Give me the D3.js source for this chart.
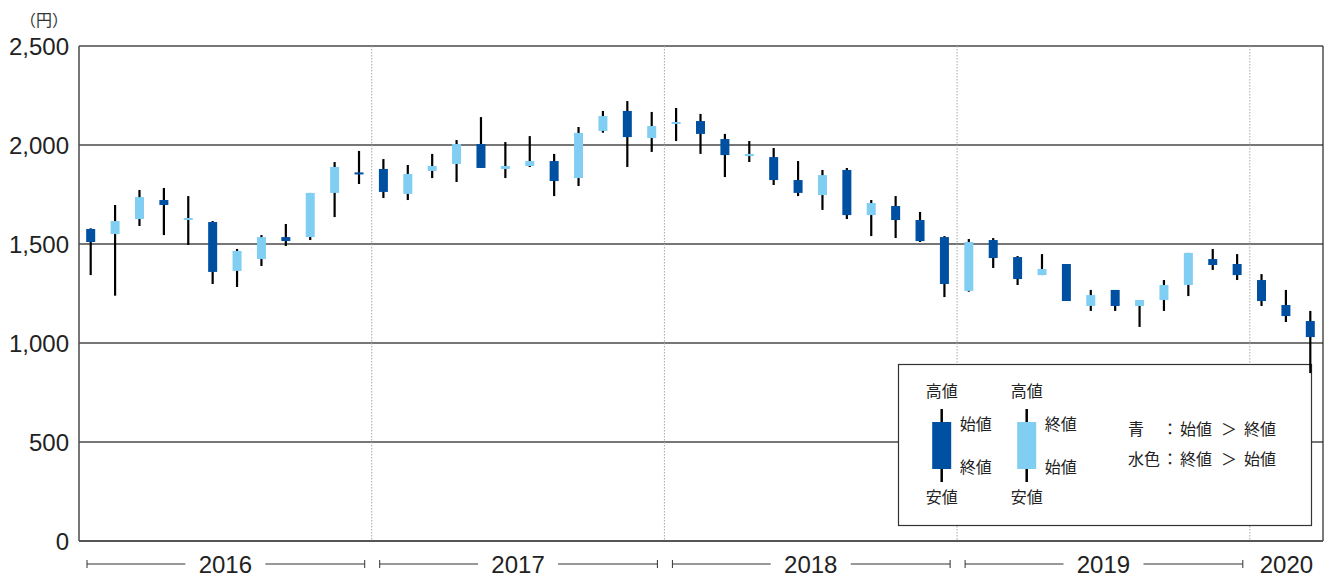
<!DOCTYPE html>
<html><head><meta charset="utf-8">
<script src="https://cdn.jsdelivr.net/npm/d3@7"></script>
<style>
html,body{margin:0;padding:0;background:#fff;}
text{font-family:"Liberation Sans",Arial,sans-serif;}
.jp{font-family:"Noto Sans CJK JP","Noto Sans",sans-serif;}
</style></head>
<body>
<svg id="chart" width="1331" height="577"></svg>
<script>
// ---- data (monthly, Jan 2016 – Mar 2020) ----
const months = ["2016-01","2016-02","2016-03","2016-04","2016-05","2016-06","2016-07","2016-08","2016-09","2016-10","2016-11","2016-12",
"2017-01","2017-02","2017-03","2017-04","2017-05","2017-06","2017-07","2017-08","2017-09","2017-10","2017-11","2017-12",
"2018-01","2018-02","2018-03","2018-04","2018-05","2018-06","2018-07","2018-08","2018-09","2018-10","2018-11","2018-12",
"2019-01","2019-02","2019-03","2019-04","2019-05","2019-06","2019-07","2019-08","2019-09","2019-10","2019-11","2019-12",
"2020-01","2020-02","2020-03"];
const openV  = [1576,1550,1626,1722,1621,1611,1364,1424,1535,1535,1758,1858,
                1879,1753,1869,1904,2005,1879,1894,1919,1833,2071,2172,2035,
                2106,2121,2030,1944,1939,1823,1747,1874,1646,1692,1621,1535,
                1263,1520,1434,1343,1399,1187,1268,1187,1217,1293,1424,1399,
                1318,1192,1111];
const highV  = [1579,1697,1773,1783,1742,1616,1475,1545,1601,1758,1914,1970,
                1929,1899,1955,2025,2141,2015,2045,1955,2091,2172,2222,2167,
                2187,2157,2056,2020,1985,1919,1874,1884,1722,1742,1662,1540,
                1525,1530,1439,1449,1399,1268,1268,1217,1318,1455,1475,1449,
                1348,1268,1162];
const lowV   = [1343,1239,1591,1545,1495,1298,1283,1389,1490,1520,1636,1803,
                1732,1722,1833,1813,1884,1833,1889,1742,1793,2062,1889,1965,
                2020,1955,1838,1914,1798,1742,1672,1626,1540,1530,1510,1232,
                1259,1379,1293,1343,1212,1162,1162,1081,1162,1237,1369,1318,
                1187,1106,848];
const closeV = [1510,1616,1737,1697,1631,1359,1465,1535,1515,1758,1889,1855,
                1763,1854,1894,2005,1884,1894,1919,1818,2061,2146,2040,2096,
                2116,2056,1949,1955,1823,1758,1848,1646,1707,1621,1515,1298,
                1510,1429,1323,1374,1212,1242,1187,1217,1293,1455,1394,1343,
                1212,1136,1030];
const years = ["2016","2017","2018","2019","2020"];
const yTicks = [0,500,1000,1500,2000,2500];
const unitLabel = "（円）";
const colorDown = "#0050a2";  // 始値 > 終値
const colorUp   = "#80cef2";  // 終値 > 始値

// ---- layout ----
const svg = d3.select("#chart");
const L = 79, R = 1323, T = 46, B = 541;

const x = d3.scaleBand().domain(months).range([L, R]).paddingInner(0).paddingOuter(0);
const y = d3.scaleLinear().domain([0, 2500]).range([B, T]);

// gridlines
svg.append("g").selectAll("line").data(yTicks.filter(d => d > 0)).join("line")
  .attr("x1", L).attr("x2", R).attr("y1", d => y(d)).attr("y2", d => y(d))
  .attr("stroke", "#4a4a4a").attr("stroke-width", 1.6);

// year separators (dotted)
const yearStart = yr => months.findIndex(m => m.startsWith(yr));
const yearEnd = yr => { const idx = months.map((m,i)=>m.startsWith(yr)?i:-1).filter(i=>i>=0); return idx[idx.length-1]; };
svg.append("g").selectAll("line").data(years.slice(1)).join("line")
  .attr("x1", d => x(months[yearStart(d)])).attr("x2", d => x(months[yearStart(d)]))
  .attr("y1", T).attr("y2", B)
  .attr("stroke", "#a8a8a8").attr("stroke-width", 1).attr("stroke-dasharray", "1.5,1.5");

// axes frame
svg.append("line").attr("x1", L).attr("x2", L).attr("y1", T).attr("y2", B).attr("stroke", "#555").attr("stroke-width", 1.6);
svg.append("line").attr("x1", R).attr("x2", R).attr("y1", T).attr("y2", B).attr("stroke", "#222").attr("stroke-width", 1.2);
svg.append("line").attr("x1", L).attr("x2", R).attr("y1", B).attr("y2", B).attr("stroke", "#555").attr("stroke-width", 2);

// y labels
svg.append("g").selectAll("text").data(yTicks).join("text")
  .attr("x", 69).attr("y", d => y(d)).attr("dy", "0.36em")
  .attr("text-anchor", "end").attr("font-size", 24).attr("fill", "#222")
  .text(d => d3.format(",")(d));
svg.append("text").attr("class", "jp").attr("x", 68).attr("y", 20)
  .attr("text-anchor", "end").attr("dy", "0.36em").attr("font-size", 16).attr("fill", "#333").text(unitLabel);

// x year brackets
const yg = svg.append("g");
years.forEach(yr => {
  const x0 = x(months[yearStart(yr)]), x1 = x(months[yearEnd(yr)]) + x.bandwidth();
  const cx = (x0 + x1) / 2, yy = 564;
  const full = (yearEnd(yr) - yearStart(yr) + 1) === 12;
  if (full) {
    const a = x0 + 8, b = x1 - 7, gap = 40;
    [[a, cx - gap], [cx + gap, b]].forEach(([p, q]) => {
      yg.append("line").attr("x1", p).attr("x2", q).attr("y1", yy).attr("y2", yy).attr("stroke", "#333").attr("stroke-width", 1);
    });
    [a, b].forEach(p => yg.append("line").attr("x1", p).attr("x2", p).attr("y1", yy - 4).attr("y2", yy + 4).attr("stroke", "#333").attr("stroke-width", 1));
  }
  yg.append("text").attr("x", cx).attr("y", yy).attr("dy", "0.36em").attr("text-anchor", "middle")
    .attr("font-size", 24).attr("fill", "#222").text(yr);
});

// legend box (drawn before candles)
const lg = svg.append("g");
lg.append("rect").attr("x", 898.5).attr("y", 364.5).attr("width", 413).attr("height", 161)
  .attr("fill", "#fff").attr("stroke", "#333").attr("stroke-width", 1.2);
function legCandle(cx, col, topLab, botLab) {
  lg.append("line").attr("x1", cx).attr("x2", cx).attr("y1", 409).attr("y2", 482).attr("stroke", "#000").attr("stroke-width", 2.5);
  lg.append("rect").attr("x", cx - 9.5).attr("y", 422).attr("width", 19).attr("height", 47).attr("fill", col);
  lg.append("text").attr("class","jp").attr("x", cx).attr("y", 391.5).attr("dy","0.36em").attr("text-anchor","middle").attr("font-size",16).attr("fill","#222").text("高値");
  lg.append("text").attr("class","jp").attr("x", cx).attr("y", 497).attr("dy","0.36em").attr("text-anchor","middle").attr("font-size",16).attr("fill","#222").text("安値");
  lg.append("text").attr("class","jp").attr("x", cx + 18).attr("y", 424).attr("dy","0.36em").attr("font-size",16).attr("fill","#222").text(topLab);
  lg.append("text").attr("class","jp").attr("x", cx + 18).attr("y", 467).attr("dy","0.36em").attr("font-size",16).attr("fill","#222").text(botLab);
}
legCandle(941.7, colorDown, "始値", "終値");
legCandle(1026.7, colorUp, "終値", "始値");
const rows = [["青", "始値", "終値", 429], ["水色", "終値", "始値", 459]];
rows.forEach(([a, b, c, yy]) => {
  const t = (xx, s, anchor) => lg.append("text").attr("class","jp").attr("x", xx).attr("y", yy).attr("dy","0.36em")
    .attr("text-anchor", anchor || "start").attr("font-size",16).attr("fill","#222").text(s);
  t(1128, a); t(1170, "：", "middle"); t(1180, b); t(1229, "＞", "middle"); t(1244, c);
});

// candles
const data = months.map((m, i) => ({m, o: openV[i], h: highV[i], l: lowV[i], c: closeV[i]}));
const cg = svg.append("g");
const cxOf = d => x(d.m) + x.bandwidth() / 2 - 0.5;
cg.selectAll("line").data(data).join("line")
  .attr("x1", cxOf).attr("x2", cxOf)
  .attr("y1", d => y(d.h)).attr("y2", d => y(d.l))
  .attr("stroke", "#000").attr("stroke-width", 2.2);
cg.selectAll("rect").data(data).join("rect")
  .attr("x", d => cxOf(d) - 4.5).attr("width", 9)
  .attr("y", d => { const t = y(Math.max(d.o, d.c)), b = y(Math.min(d.o, d.c)); return (b - t < 2) ? (t + b) / 2 - 1 : t; })
  .attr("height", d => Math.max(2, y(Math.min(d.o, d.c)) - y(Math.max(d.o, d.c))))
  .attr("fill", d => d.o > d.c ? colorDown : colorUp);
</script>
</body></html>
